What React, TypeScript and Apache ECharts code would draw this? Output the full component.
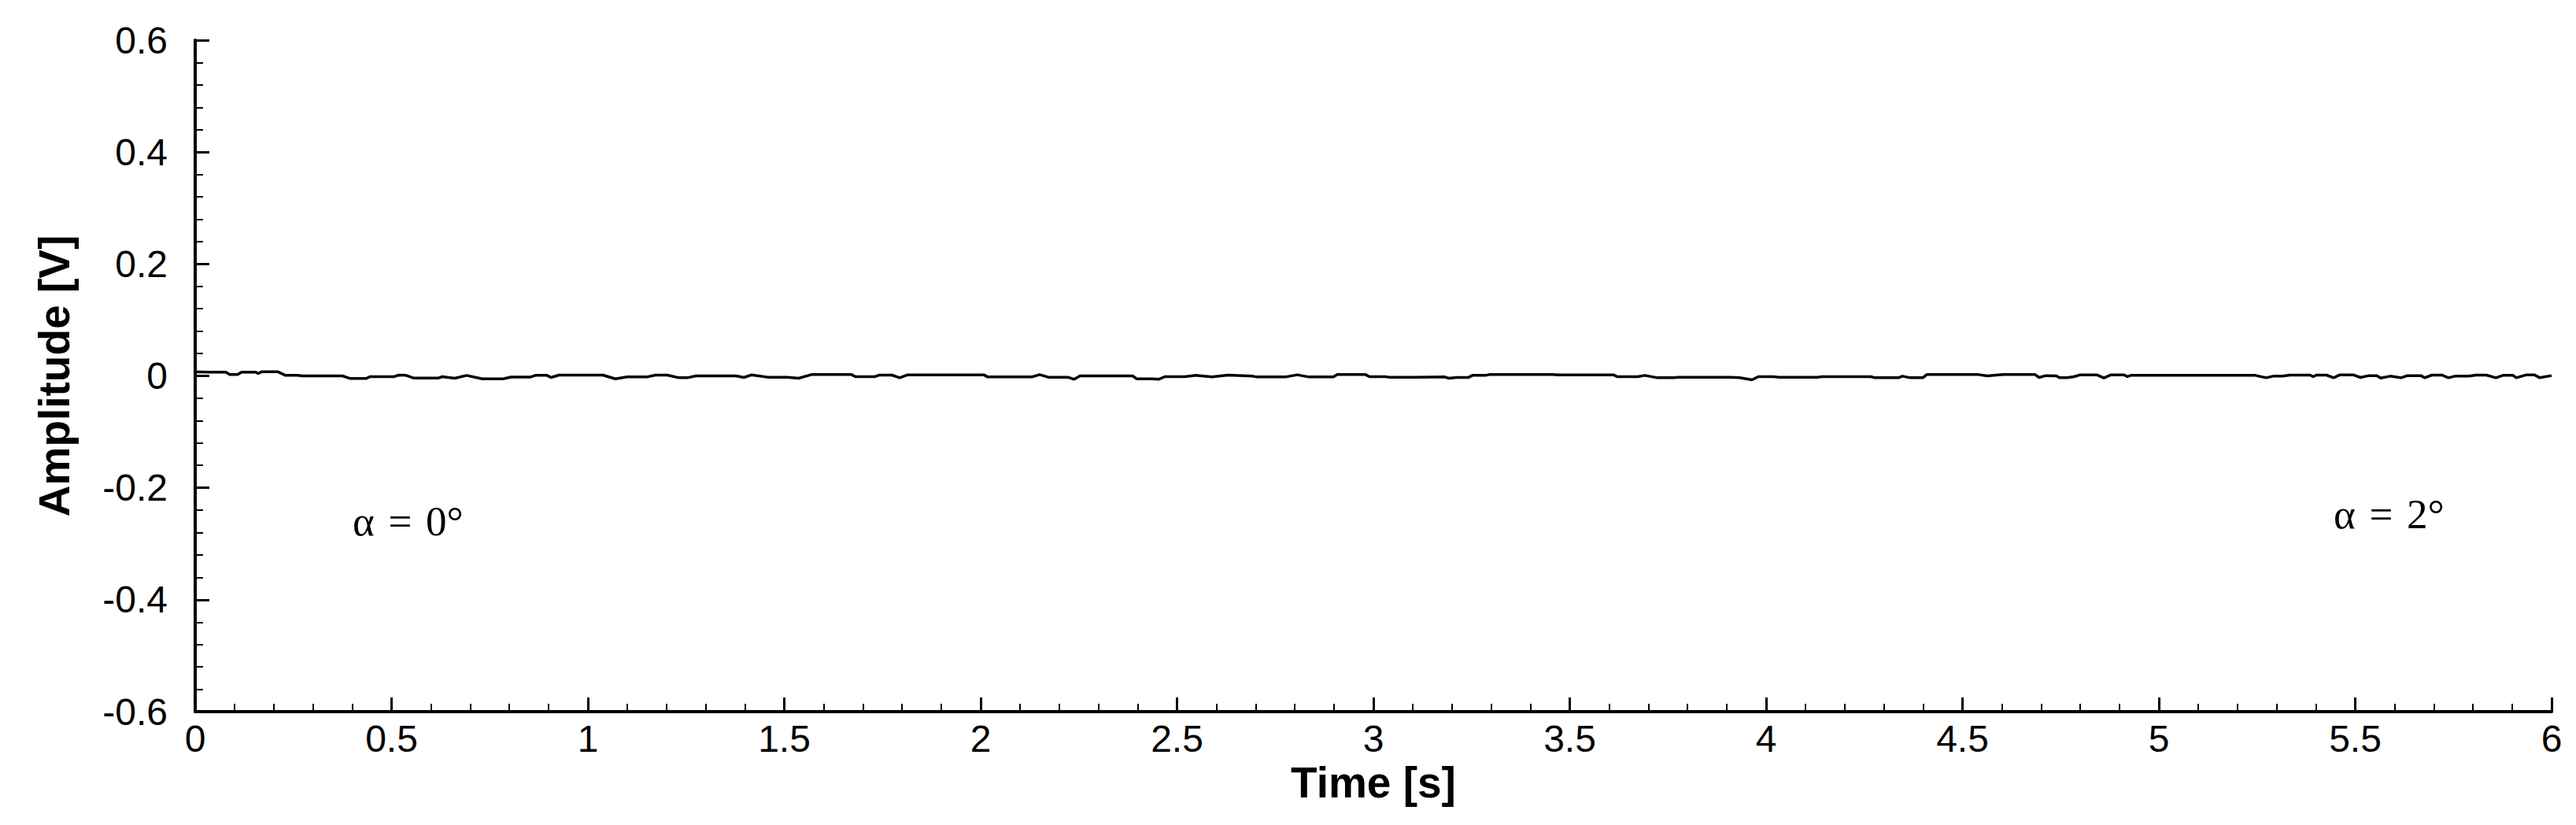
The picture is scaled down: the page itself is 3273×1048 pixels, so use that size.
import React, { useEffect, useRef } from "react";
import * as echarts from "echarts";

const TIME: number[] = [
  0, 0.006, 0.036, 0.078, 0.088, 0.108, 0.118, 0.154, 0.16, 0.17, 0.21, 0.23, 0.261, 0.273, 0.375,
  0.395, 0.435, 0.445, 0.507, 0.517, 0.537, 0.557, 0.619, 0.629, 0.661, 0.691, 0.731, 0.784, 0.804,
  0.854, 0.866, 0.896, 0.906, 0.926, 1.038, 1.07, 1.1, 1.15, 1.172, 1.202, 1.232, 1.253, 1.275,
  1.377, 1.397, 1.417, 1.457, 1.507, 1.537, 1.569, 1.671, 1.681, 1.731, 1.741, 1.774, 1.794, 1.814,
  2.008, 2.018, 2.13, 2.15, 2.172, 2.222, 2.238, 2.253, 2.387, 2.397, 2.437, 2.453, 2.469, 2.519,
  2.549, 2.589, 2.629, 2.693, 2.703, 2.776, 2.806, 2.836, 2.898, 2.908, 2.98, 2.99, 3.03, 3.04,
  3.11, 3.182, 3.192, 3.212, 3.242, 3.252, 3.285, 3.295, 3.457, 3.469, 3.611, 3.621, 3.673, 3.691,
  3.723, 3.766, 3.776, 3.908, 3.932, 3.964, 3.98, 4.02, 4.03, 4.132, 4.142, 4.267, 4.277, 4.337,
  4.347, 4.367, 4.399, 4.409, 4.541, 4.563, 4.603, 4.685, 4.695, 4.713, 4.739, 4.747, 4.766, 4.784,
  4.8, 4.842, 4.86, 4.878, 4.912, 4.92, 4.928, 5.246, 5.273, 5.291, 5.315, 5.333, 5.385, 5.393,
  5.401, 5.427, 5.445, 5.461, 5.495, 5.513, 5.535, 5.555, 5.565, 5.589, 5.617, 5.633, 5.667, 5.677,
  5.695, 5.721, 5.737, 5.754, 5.789, 5.808, 5.834, 5.858, 5.876, 5.902, 5.91, 5.936, 5.956, 5.97, 6.0,
];

const AMPLITUDE: number[] = [
  0.007, 0.007, 0.0066, 0.0066, 0.0023, 0.0023, 0.0066, 0.0066, 0.0042, 0.0075, 0.0075, 0.001, 0.001, 0, 0,
  -0.0047, -0.0047, -0.0014, -0.0014, 0.0014, 0.0009, -0.004, -0.004, -0.0014, -0.0042, 0.0009, -0.0052, -0.0052, -0.002,
  -0.002, 0.0009, 0.0009, -0.0028, 0.0014, 0.0014, -0.0052, -0.0019, -0.0019, 0.0014, 0.0014, -0.0033, -0.0033, 0,
  0, -0.0028, 0.0019, -0.0023, -0.0023, -0.0042, 0.0023, 0.0023, -0.0014, -0.0014, 0.0014, 0.0014, -0.0033, 0.0019,
  0.0019, -0.0019, -0.0019, 0.0023, -0.0023, -0.0023, -0.0061, 0, 0, -0.0052, -0.0052, -0.0061, -0.0014, -0.0014,
  0.0009, -0.0019, 0.0014, -0.0005, -0.0019, -0.0019, 0.0019, -0.0019, -0.0019, 0.0023, 0.0023, -0.0014, -0.0014, -0.0023,
  -0.0023, -0.0019, -0.0042, -0.0028, -0.0028, 0.0009, 0.0009, 0.0023, 0.0023, 0.0019, 0.0019, -0.0014, -0.0014, 0.0009,
  -0.0033, -0.0033, -0.0023, -0.0023, -0.0033, -0.007, -0.0014, -0.0014, -0.0023, -0.0023, -0.0014, -0.0014, -0.0033, -0.0033,
  -0.0005, -0.0033, -0.0033, 0.0023, 0.0023, 0, 0.0023, 0.0023, -0.0028, 0.0005, 0, -0.0033, -0.0033, -0.0014,
  0.0019, 0.0019, -0.0038, 0.0019, 0.0019, -0.0014, 0.0009, 0.0009, -0.0033, -0.0005, -0.0005, 0.0014, 0.0014, -0.0014,
  0.0014, 0.0014, -0.0033, 0.0019, 0.0019, -0.0028, 0.0005, 0.0005, -0.0038, -0.0005, -0.0033, 0.0005, 0.0005, -0.0033,
  0.0014, 0.0014, -0.0033, -0.0005, -0.0005, 0.0014, 0.0014, -0.0033, 0.0009, 0.0009, -0.0033, 0.0019, 0.0019, -0.0033, 0.0005,
];

const X_TITLE = "Time [s]";
const Y_TITLE = "Amplitude [V]";
const ANNOTATIONS = ["α\u2004=\u20040°", "α\u2004=\u20042°"];

export default function App() {
  const ref = useRef<HTMLDivElement>(null);
  useEffect(() => {
    document.body.style.margin = "0";
    if (!ref.current) return;
    const chart = echarts.init(ref.current, undefined, { renderer: "svg" });
    const data = TIME.map((t, i) => [t, AMPLITUDE[i]]);
    const axisColor = "#000";
    const labelFont = {
      color: "#000",
      fontFamily: "Liberation Sans, Arial, sans-serif",
      fontSize: 48,
    };
    chart.setOption({
      animation: false,
      backgroundColor: "#fff",
      grid: { left: 248, right: 31, top: 51, bottom: 144, containLabel: false },
      xAxis: {
        type: "value",
        min: 0,
        max: 6,
        interval: 0.5,
        name: X_TITLE,
        nameLocation: "middle",
        nameGap: 52,
        nameTextStyle: {
          color: "#000",
          fontFamily: "Liberation Sans, Arial, sans-serif",
          fontWeight: "bold",
          fontSize: 55,
        },
        axisLine: { show: true, onZero: false, lineStyle: { color: axisColor, width: 4 } },
        axisTick: { show: true, inside: true, length: 18, lineStyle: { color: axisColor, width: 3 } },
        minorTick: { show: true, splitNumber: 5, length: 10, lineStyle: { color: axisColor, width: 2 } },
        splitLine: { show: false },
        axisLabel: { ...labelFont, margin: 10 },
      },
      yAxis: {
        type: "value",
        min: -0.6,
        max: 0.6,
        interval: 0.2,
        name: Y_TITLE,
        nameLocation: "middle",
        nameGap: 152,
        nameTextStyle: {
          color: "#000",
          fontFamily: "Liberation Sans, Arial, sans-serif",
          fontWeight: "bold",
          fontSize: 55,
        },
        axisLine: { show: true, onZero: false, lineStyle: { color: axisColor, width: 4 } },
        axisTick: { show: true, inside: true, length: 18, lineStyle: { color: axisColor, width: 3 } },
        minorTick: { show: true, splitNumber: 5, length: 10, lineStyle: { color: axisColor, width: 2 } },
        splitLine: { show: false },
        axisLabel: {
          ...labelFont,
          margin: 35,
          formatter: (v: number) => {
            const r = Math.round(v * 10) / 10;
            return r === 0 ? "0" : String(r);
          },
        },
      },
      series: [
        {
          type: "line",
          data,
          showSymbol: false,
          symbol: "none",
          lineStyle: { color: "#000", width: 3.5 },
        },
      ],
      graphic: [
        {
          type: "text",
          left: 448,
          top: 635,
          style: {
            text: ANNOTATIONS[0],
            fill: "#000",
            font: "53px 'Liberation Serif', 'DejaVu Serif', serif",
          },
        },
        {
          type: "text",
          left: 2965,
          top: 626,
          style: {
            text: ANNOTATIONS[1],
            fill: "#000",
            font: "53px 'Liberation Serif', 'DejaVu Serif', serif",
          },
        },
      ],
    });
    return () => chart.dispose();
  }, []);
  return <div ref={ref} style={{ width: 3273, height: 1048 }} />;
}
